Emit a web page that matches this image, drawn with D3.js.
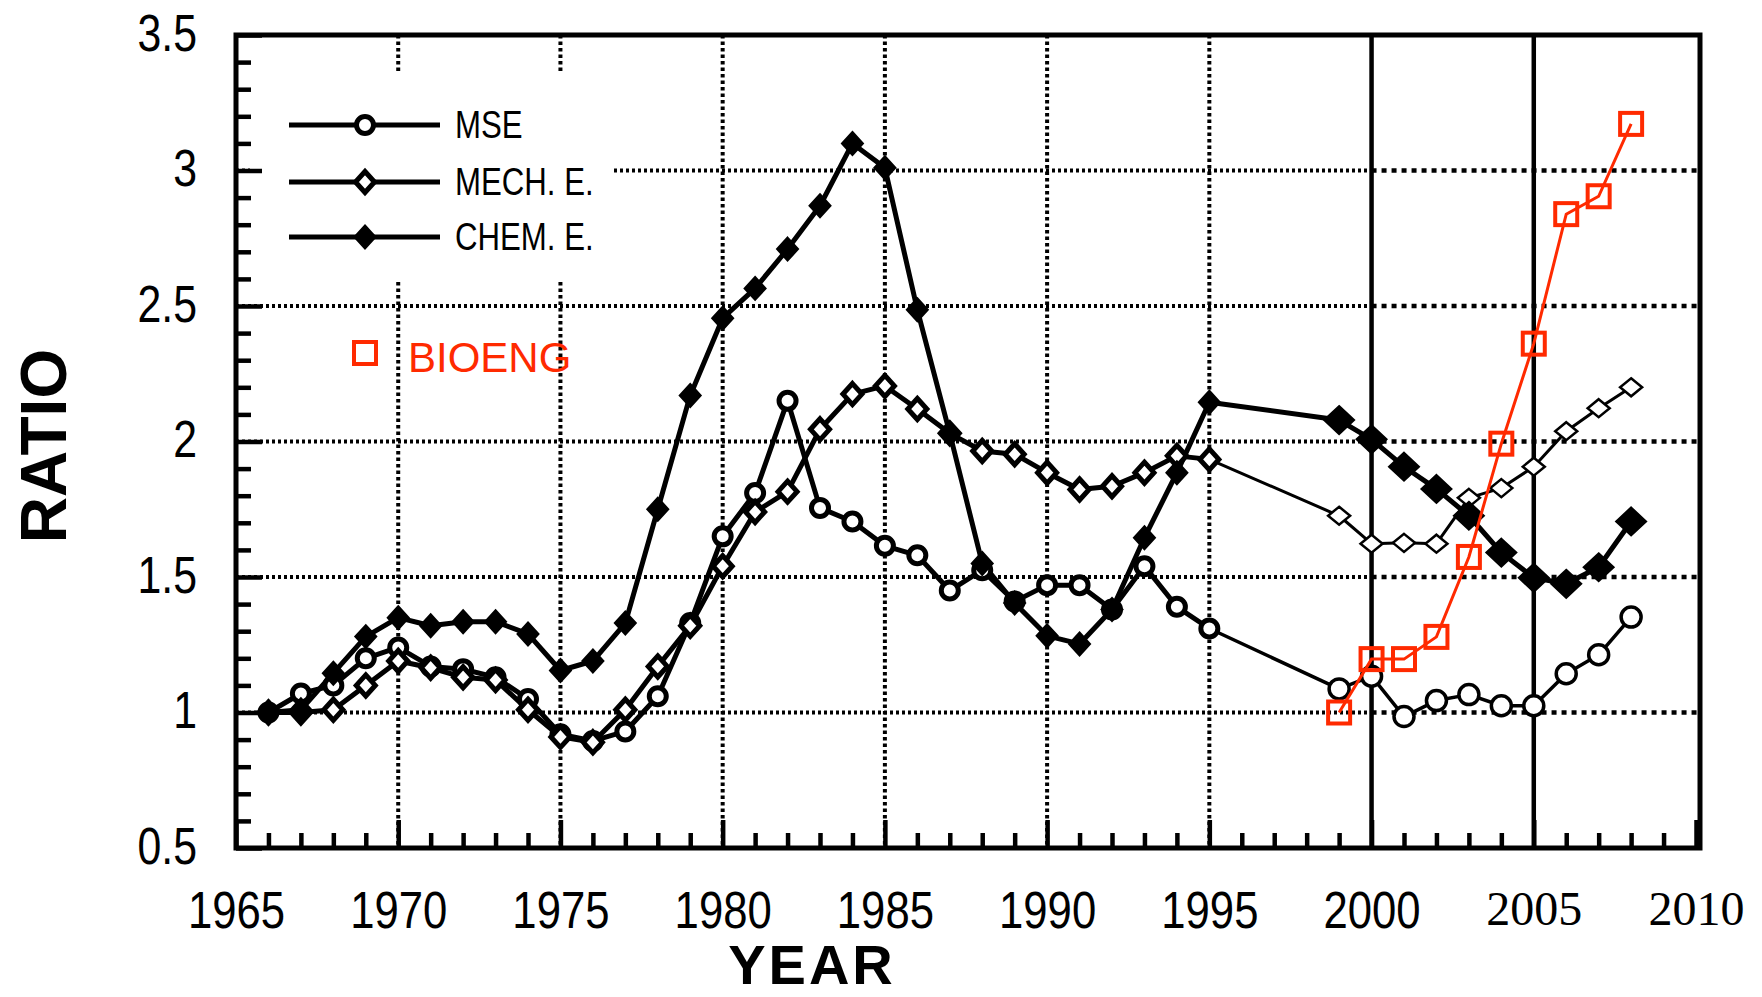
<!DOCTYPE html>
<html lang="en">

<head>
    <meta charset="UTF-8">
    <title>Ratio by year</title>
    <script src="https://d3js.org/d3.v7.min.js"></script>
    <style>
        body { margin: 0; background: #fff; }
    </style>
</head>

<body>
    <script>
        var years = [1966, 1967, 1968, 1969, 1970, 1971, 1972, 1973, 1974, 1975,
            1976, 1977, 1978, 1979, 1980, 1981, 1982, 1983, 1984, 1985,
            1986, 1987, 1988, 1989, 1990, 1991, 1992, 1993, 1994, 1995,
            1999, 2000, 2001, 2002, 2003, 2004, 2005, 2006, 2007, 2008];

        var mse = [1.00, 1.07, 1.10, 1.20, 1.24, 1.17, 1.16, 1.13, 1.05, 0.92,
            0.895, 0.93, 1.06, 1.33, 1.65, 1.81, 2.15, 1.755, 1.705, 1.615,
            1.58, 1.45, 1.525, 1.41, 1.47, 1.47, 1.38, 1.54, 1.39, 1.31,
            1.087, 1.134, 0.985, 1.044, 1.066, 1.025, 1.025, 1.143, 1.213, 1.352];

        var mech = [1.00, 1.00, 1.01, 1.10, 1.19, 1.165, 1.13, 1.12, 1.01, 0.91,
            0.89, 1.01, 1.17, 1.32, 1.54, 1.74, 1.815, 2.045, 2.175, 2.205,
            2.12, 2.03, 1.965, 1.953, 1.885, 1.823, 1.835, 1.885, 1.947, 1.934,
            1.726, 1.623, 1.626, 1.623, 1.792, 1.828, 1.907, 2.038, 2.123, 2.20];

        var chem = [1.00, 1.01, 1.145, 1.28, 1.35, 1.32, 1.335, 1.335, 1.29, 1.155,
            1.19, 1.33, 1.75, 2.17, 2.455, 2.565, 2.71, 2.87, 3.10, 3.01,
            2.486, 2.03, 1.55, 1.404, 1.283, 1.253, 1.38, 1.645, 1.885, 2.145,
            2.079, 2.008, 1.907, 1.825, 1.726, 1.590, 1.497, 1.475, 1.536, 1.705];

        var bioYears = [1999, 2000, 2001, 2002, 2003, 2004, 2005, 2006, 2007, 2008];
        var bioeng = [1.00, 1.197, 1.197, 1.279, 1.574, 1.992, 2.361, 2.839, 2.905, 3.172];

        var yTicks = [0.5, 1, 1.5, 2, 2.5, 3, 3.5];
        var xTicks = [1965, 1970, 1975, 1980, 1985, 1990, 1995, 2000, 2005, 2010];
        var legendNames = ["MSE", "MECH. E.", "CHEM. E."];

        var width = 1762, height = 997;
        var red = "#ff2a00";
        var sans = "'Liberation Sans', Arial, sans-serif";
        var squeeze = 0.84;   // the original labels use a condensed face

        var svg = d3.select("body")
            .append("svg")
            .attr("width", width)
            .attr("height", height);

        svg.append("rect").attr("width", width).attr("height", height).attr("fill", "#fff");

        var x = d3.scaleLinear().domain([1965, 2010]).range([236, 1696]);
        var y = d3.scaleLinear().domain([0.5, 3.5]).range([848, 35]);
        var right = x(2010) + 4;

        // gridlines
        var grid = svg.append("g");
        [1, 1.5, 2, 2.5, 3].forEach(function (v) {
            grid.append("line")
                .attr("x1", x(1965)).attr("x2", x(2000))
                .attr("y1", y(v)).attr("y2", y(v))
                .attr("stroke", "#000").attr("stroke-width", 4)
                .attr("stroke-dasharray", "3 3");
            grid.append("line")
                .attr("x1", x(2000)).attr("x2", right)
                .attr("y1", y(v)).attr("y2", y(v))
                .attr("stroke", "#000").attr("stroke-width", 4.5)
                .attr("stroke-dasharray", "5 5");
        });
        [1970, 1975, 1980, 1985, 1990, 1995].forEach(function (yr) {
            grid.append("line")
                .attr("x1", x(yr)).attr("x2", x(yr))
                .attr("y1", y(3.5)).attr("y2", y(0.5))
                .attr("stroke", "#000").attr("stroke-width", 4)
                .attr("stroke-dasharray", "3.5 3");
        });
        [2000, 2005].forEach(function (yr) {
            grid.append("line")
                .attr("x1", x(yr)).attr("x2", x(yr))
                .attr("y1", y(3.5)).attr("y2", y(0.5))
                .attr("stroke", "#000").attr("stroke-width", 4.5);
        });

        // legend background hides the grid
        svg.append("rect")
            .attr("x", 250).attr("y", 73)
            .attr("width", 362).attr("height", 207)
            .attr("fill", "#fff");

        // axes
        var minorY = d3.range(6, 35).map(function (d) { return d / 10; })
            .filter(function (d) { return Math.round(d * 10) % 5 != 0; });
        svg.append("g")
            .attr("transform", "translate(" + x(1965) + ",0)")
            .call(d3.axisLeft(y).tickValues(minorY).tickSize(-15).tickFormat(""))
            .call(function (g) { g.select(".domain").remove(); })
            .selectAll("line").attr("stroke-width", 4.5);

        var yAxis = svg.append("g")
            .attr("transform", "translate(" + x(1965) + ",0)")
            .call(d3.axisLeft(y).tickValues(yTicks).tickSizeInner(-26).tickSizeOuter(0)
                .tickPadding(39 / squeeze).tickFormat(function (d) { return d; }));
        yAxis.attr("font-family", sans);
        yAxis.select(".domain").remove();
        yAxis.selectAll("line").attr("stroke-width", 4.5);
        yAxis.selectAll("text").attr("font-size", 51).attr("dy", "0.30em")
            .attr("transform", "scale(" + squeeze + ",1)");

        var minorX = d3.range(1966, 2010).filter(function (d) { return d % 5 != 0; });
        svg.append("g")
            .attr("transform", "translate(0," + y(0.5) + ")")
            .call(d3.axisBottom(x).tickValues(minorX).tickSize(-15).tickFormat(""))
            .call(function (g) { g.select(".domain").remove(); })
            .selectAll("line").attr("stroke-width", 4.5);

        var xAxis = svg.append("g")
            .attr("transform", "translate(0," + y(0.5) + ")")
            .call(d3.axisBottom(x).tickValues(xTicks).tickSizeInner(-28).tickSizeOuter(0)
                .tickPadding(43).tickFormat(function (d) { return d; }));
        xAxis.attr("font-family", sans);
        xAxis.select(".domain").remove();
        xAxis.selectAll("line").attr("stroke-width", 4.5);
        xAxis.selectAll("text").attr("font-size", 52)
            .attr("transform", "scale(" + squeeze + ",1)");
        xAxis.selectAll("text")
            .filter(function (d) { return d >= 2005; })
            .attr("font-family", "'Liberation Serif', 'Times New Roman', serif")
            .attr("font-size", 48)
            .attr("transform", null);

        // frame
        svg.append("rect")
            .attr("x", x(1965)).attr("y", y(3.5))
            .attr("width", right - x(1965)).attr("height", y(0.5) - y(3.5))
            .attr("fill", "none").attr("stroke", "#000").attr("stroke-width", 5);

        // axis titles
        svg.append("text")
            .attr("transform", "translate(66," + 446 + ") rotate(-90)")
            .attr("text-anchor", "middle")
            .attr("font-family", sans)
            .attr("font-weight", "bold").attr("font-size", 64)
            .text("RATIO");
        svg.append("text")
            .attr("x", 812).attr("y", 984)
            .attr("text-anchor", "middle")
            .attr("font-family", sans)
            .attr("font-weight", "bold").attr("font-size", 56)
            .attr("letter-spacing", 3)
            .text("YEAR");

        // series
        function rows(vals) {
            return years.map(function (yr, i) { return { year: yr, v: vals[i] }; });
        }
        var line = d3.line().x(function (d) { return x(d.year); }).y(function (d) { return y(d.v); });

        function diamond(w, h) {
            return "M0," + (-h) + "L" + w + ",0L0," + h + "L" + (-w) + ",0Z";
        }

        var series = [
            { name: "MSE", data: rows(mse), oldW: 5, newW: 3.5 },
            { name: "MECH", data: rows(mech), oldW: 5, newW: 3 },
            { name: "CHEM", data: rows(chem), oldW: 5, newW: 5 }
        ];

        series.forEach(function (s) {
            var early = s.data.filter(function (d) { return d.year <= 1995; });
            var late = s.data.filter(function (d) { return d.year >= 1995; });
            svg.append("path").datum(early).attr("d", line)
                .attr("fill", "none").attr("stroke", "#000").attr("stroke-width", s.oldW)
                .attr("stroke-linejoin", "round");
            svg.append("path").datum(late).attr("d", line)
                .attr("fill", "none").attr("stroke", "#000").attr("stroke-width", s.newW)
                .attr("stroke-linejoin", "round");
        });

        function drawMarker(g, name, late) {
            if (name == "MSE") {
                g.append("circle").attr("r", late ? 10 : 8.5)
                    .attr("fill", "#fff").attr("stroke", "#000").attr("stroke-width", late ? 3.5 : 5);
            } else if (name == "MECH") {
                g.append("path").attr("d", late ? diamond(11, 9) : diamond(9.5, 10.5))
                    .attr("fill", "#fff").attr("stroke", "#000").attr("stroke-width", late ? 2.5 : 5);
            } else {
                g.append("path").attr("d", late ? diamond(15, 14) : diamond(10.5, 11.5))
                    .attr("fill", "#000").attr("stroke", "#000").attr("stroke-width", 2);
            }
        }

        series.forEach(function (s) {
            svg.append("g").selectAll("g")
                .data(s.data)
                .enter()
                .append("g")
                .attr("transform", function (d) { return "translate(" + x(d.year) + "," + y(d.v) + ")"; })
                .each(function (d) { drawMarker(d3.select(this), s.name, d.year >= 1999); });
        });

        var bio = bioYears.map(function (yr, i) { return { year: yr, v: bioeng[i] }; });
        svg.append("path").datum(bio).attr("d", line)
            .attr("fill", "none").attr("stroke", red).attr("stroke-width", 3);
        svg.append("g").selectAll("rect")
            .data(bio)
            .enter()
            .append("rect")
            .attr("x", function (d) { return x(d.year) - 11; })
            .attr("y", function (d) { return y(d.v) - 11; })
            .attr("width", 22).attr("height", 22)
            .attr("fill", "none").attr("stroke", red).attr("stroke-width", 4);

        // legend
        var legendY = [125, 182, 237];
        var legendKeys = ["MSE", "MECH", "CHEM"];
        legendKeys.forEach(function (k, i) {
            svg.append("line")
                .attr("x1", 289).attr("x2", 440)
                .attr("y1", legendY[i]).attr("y2", legendY[i])
                .attr("stroke", "#000").attr("stroke-width", 5);
            var g = svg.append("g").attr("transform", "translate(365," + legendY[i] + ")");
            drawMarker(g, k, false);
            svg.append("text")
                .attr("transform", "translate(455," + (legendY[i] + 13) + ") scale(0.8,1)")
                .attr("font-family", sans)
                .attr("font-size", 39)
                .text(legendNames[i]);
        });

        svg.append("rect")
            .attr("x", 354).attr("y", 342)
            .attr("width", 22).attr("height", 22)
            .attr("fill", "none").attr("stroke", red).attr("stroke-width", 4);
        svg.append("text")
            .attr("x", 408).attr("y", 372)
            .attr("font-family", sans)
            .attr("font-size", 42)
            .attr("fill", red)
            .text("BIOENG");
    </script>
</body>

</html>
